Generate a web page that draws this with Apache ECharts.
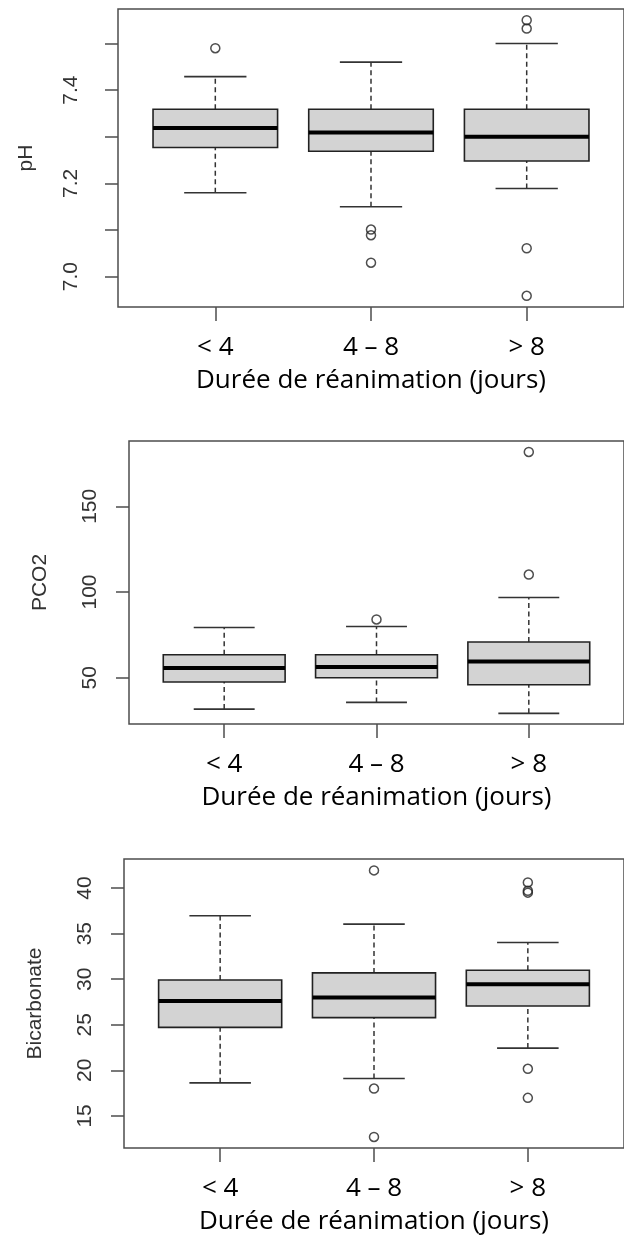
<!DOCTYPE html>
<html>
<head>
<meta charset="utf-8">
<script src="https://cdn.jsdelivr.net/npm/echarts@6/dist/echarts.min.js"></script>
<style>
  html, body { margin: 0; padding: 0; background: #fff; }
  #main { width: 624px; height: 1240px; }
</style>
</head>
<body>
<div id="main"></div>
<script>
var categories = ['< 4', '4 – 8', '> 8'];
var xName = 'Durée de réanimation (jours)';

// [min, Q1, médiane, Q3, max] pour chaque groupe
var phStats = [
  [7.18, 7.277, 7.319, 7.359, 7.429],
  [7.15, 7.269, 7.309, 7.359, 7.46],
  [7.189, 7.248, 7.30, 7.359, 7.50]
];
var phOutliers = [[7.49], [7.101, 7.089, 7.03], [7.55, 7.532, 7.061, 6.959]];
var phTicks = [7.0, 7.1, 7.2, 7.3, 7.4, 7.5];
var phLabels = [7.0, 7.2, 7.4];

var pco2Stats = [
  [31.7, 47.5, 55.6, 63.4, 79.3],
  [35.6, 50.0, 56.2, 63.4, 79.9],
  [29.2, 45.9, 59.5, 70.8, 96.8]
];
var pco2Outliers = [[], [84.0], [181.7, 110.2]];
var pco2Ticks = [50, 100, 150];

var bicarbStats = [
  [18.63, 24.71, 27.61, 29.92, 36.96],
  [19.1, 25.78, 27.98, 30.69, 36.04],
  [22.44, 27.06, 29.44, 30.98, 34.02]
];
var bicarbOutliers = [[], [41.94, 18.0, 12.69], [40.62, 39.7, 39.5, 20.17, 16.98]];
var bicarbTicks = [15, 20, 25, 30, 35, 40];

var panels = [
  { name: 'pH', stats: phStats, outliers: phOutliers, ticks: phTicks, labels: phLabels,
    min: 6.935, max: 7.574, digits: 1, labelMargin: 36, nameGap: 81,
    grid: { left: 118, top: 9, width: 520, height: 298 } },
  { name: 'PCO2', stats: pco2Stats, outliers: pco2Outliers, ticks: pco2Ticks, labels: pco2Ticks,
    min: 23.0, max: 188.1, digits: 0, labelMargin: 28, nameGap: 78,
    grid: { left: 129, top: 441, width: 500, height: 283 } },
  { name: 'Bicarbonate', stats: bicarbStats, outliers: bicarbOutliers, ticks: bicarbTicks, labels: bicarbTicks,
    min: 11.48, max: 43.19, digits: 0, labelMargin: 28, nameGap: 78,
    grid: { left: 124, top: 859, width: 501, height: 289 } }
];

var lineCol = '#333';

function renderBox(params, api) {
  var x = api.value(0);
  var lo = api.coord([x, api.value(1)]);
  var q1 = api.coord([x, api.value(2)]);
  var md = api.coord([x, api.value(3)]);
  var q3 = api.coord([x, api.value(4)]);
  var hi = api.coord([x, api.value(5)]);
  var bl = api.coord([x - 0.4, 0])[0], br = api.coord([x + 0.4, 0])[0];
  var cl = api.coord([x - 0.2, 0])[0], cr = api.coord([x + 0.2, 0])[0];
  var cx = lo[0];
  var dash = { stroke: lineCol, lineWidth: 1.5, lineDash: [5, 3.5] };
  var solid = { stroke: lineCol, lineWidth: 1.6 };
  return {
    type: 'group',
    children: [
      { type: 'line', shape: { x1: cx, y1: lo[1], x2: cx, y2: q1[1] }, style: dash },
      { type: 'line', shape: { x1: cx, y1: q3[1], x2: cx, y2: hi[1] }, style: dash },
      { type: 'line', shape: { x1: cl, y1: lo[1], x2: cr, y2: lo[1] }, style: solid },
      { type: 'line', shape: { x1: cl, y1: hi[1], x2: cr, y2: hi[1] }, style: solid },
      { type: 'rect', shape: { x: bl, y: q3[1], width: br - bl, height: q1[1] - q3[1] },
        style: { fill: '#d3d3d3', stroke: '#222', lineWidth: 1.6 } },
      { type: 'line', shape: { x1: bl, y1: md[1], x2: br, y2: md[1] },
        style: { stroke: '#000', lineWidth: 4 } }
    ]
  };
}

var grids = [], xAxes = [], yAxes = [], series = [];
panels.forEach(function (p, i) {
  grids.push(Object.assign({ show: true, borderColor: '#4d4d4d', borderWidth: 1.5 }, p.grid));
  xAxes.push({
    gridIndex: i, type: 'value', min: 0.375, max: 3.625,
    axisLine: { show: false, onZero: false },
    splitLine: { show: false },
    axisTick: { show: true, length: 14, customValues: [1, 2, 3], lineStyle: { color: '#4d4d4d', width: 1.5 } },
    axisLabel: {
      customValues: [1, 2, 3], margin: 28,
      formatter: function (v) { return categories[Math.round(v) - 1]; },
      fontFamily: 'Open Sans', fontSize: 26, color: '#000'
    },
    name: xName, nameLocation: 'middle', nameGap: 61,
    nameTextStyle: { fontFamily: 'Open Sans', fontSize: 26, color: '#000' }
  });
  yAxes.push({
    gridIndex: i, type: 'value', min: p.min, max: p.max,
    axisLine: { show: false, onZero: false },
    splitLine: { show: false },
    axisTick: { show: true, length: 13, customValues: p.ticks, lineStyle: { color: '#4d4d4d', width: 1.5 } },
    axisLabel: {
      customValues: p.labels, rotate: 90, margin: p.labelMargin,
      formatter: function (v) { return v.toFixed(p.digits); },
      fontFamily: 'Liberation Sans', fontSize: 21, color: '#333'
    },
    name: p.name, nameLocation: 'middle', nameRotate: 90, nameGap: p.nameGap,
    nameTextStyle: { fontFamily: 'Liberation Sans', fontSize: 21, color: '#333' }
  });
  series.push({
    type: 'custom', xAxisIndex: i, yAxisIndex: i, silent: true, z: 2,
    renderItem: renderBox,
    encode: { x: 0, y: [1, 2, 3, 4, 5] },
    data: p.stats.map(function (s, k) { return [k + 1].concat(s); })
  });
  var pts = [];
  p.outliers.forEach(function (list, k) {
    list.forEach(function (v) { pts.push([k + 1, v]); });
  });
  series.push({
    type: 'scatter', xAxisIndex: i, yAxisIndex: i, silent: true, z: 3,
    symbol: 'circle', symbolSize: 9,
    itemStyle: { color: 'rgba(0,0,0,0)', borderColor: '#222', borderWidth: 1.5 },
    data: pts
  });
});

var myChart = echarts.init(document.getElementById('main'));
myChart.setOption({
  animation: false,
  backgroundColor: '#fff',
  grid: grids,
  xAxis: xAxes,
  yAxis: yAxes,
  series: series
});
</script>
</body>
</html>
